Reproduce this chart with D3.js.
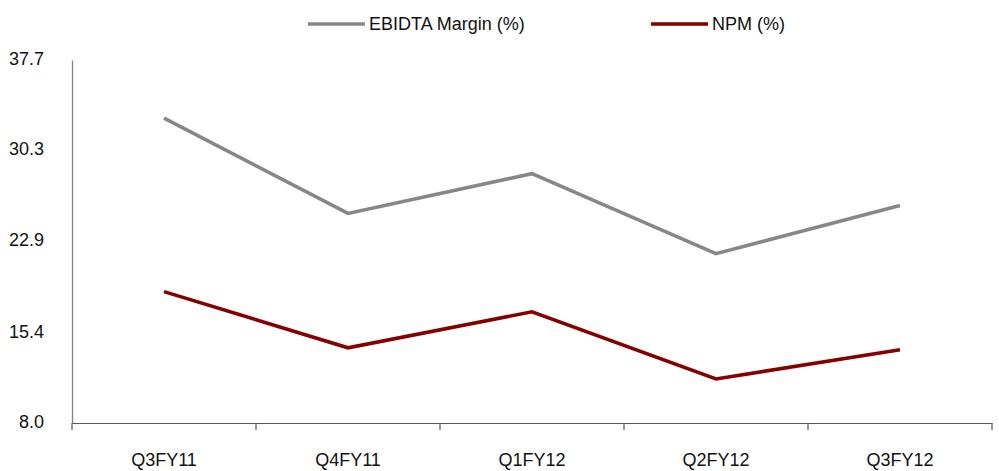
<!DOCTYPE html>
<html><head><meta charset="utf-8">
<script src="https://cdn.jsdelivr.net/npm/d3@7/dist/d3.min.js"></script>
<style>
html,body{margin:0;padding:0;background:#fff;}
text{font-family:"Liberation Sans Narrow","Arial Narrow","Liberation Sans",Arial,sans-serif;}
</style></head>
<body>
<svg id="chart" width="999" height="471"></svg>
<script>
const categories = ["Q3FY11","Q4FY11","Q1FY12","Q2FY12","Q3FY12"];
const ebitdaMargin = [32.95, 25.15, 28.4, 21.85, 25.8];
const npm = [18.75, 14.15, 17.1, 11.6, 14.0];
const yTicks = [8.0, 15.4, 22.9, 30.3, 37.7];
const seriesNames = ["EBIDTA Margin (%)", "NPM (%)"];
const seriesColors = ["#878787", "#870000"];

(function () {
const svg = d3.select("#chart");
const mLeft = 72, mRight = 992, mTop = 60, mBottom = 423;

const x = d3.scaleBand().domain(categories).range([mLeft, mRight]);
const y = d3.scaleLinear().domain([8.0, 37.7]).range([mBottom, mTop]);

// Y axis
const yAxis = svg.append("g").attr("transform", `translate(${mLeft},0)`)
  .call(d3.axisLeft(y).tickValues(yTicks).tickSize(0).tickPadding(28).tickFormat(d3.format(".1f")));
yAxis.select(".domain").attr("stroke", "#808080").attr("stroke-width", 1.3);
yAxis.selectAll("text").attr("font-size", 18).attr("fill", "#111").attr("dy", "0.25em");

// X axis
const xAxis = svg.append("g").attr("transform", `translate(0,${mBottom})`)
  .call(d3.axisBottom(x).tickSize(0).tickPadding(30));
xAxis.select(".domain").attr("stroke", "#555").attr("stroke-width", 1.2);
xAxis.selectAll("text").attr("font-size", 18).attr("fill", "#111");
const bounds = categories.map(c => x(c)).concat([x(categories[categories.length-1]) + x.bandwidth()]);
svg.append("g").selectAll("line").data(bounds).join("line")
  .attr("x1", d => d).attr("x2", d => d)
  .attr("y1", mBottom).attr("y2", mBottom + 7)
  .attr("stroke", "#555").attr("stroke-width", 1.2);

const line = d3.line().x((d, i) => x(categories[i]) + x.bandwidth() / 2).y(d => y(d));
[ebitdaMargin, npm].forEach((s, k) => {
  svg.append("path").datum(s).attr("d", line)
    .attr("fill", "none").attr("stroke", seriesColors[k]).attr("stroke-width", 3.6)
    .attr("stroke-linejoin", "miter");
});

const legendPos = [308, 651];
seriesNames.forEach((n, k) => {
  const g = svg.append("g").attr("transform", `translate(${legendPos[k]},24)`);
  g.append("line").attr("x1", 0).attr("x2", 57).attr("y1", 0).attr("y2", 0)
    .attr("stroke", seriesColors[k]).attr("stroke-width", 3.6);
  g.append("text").attr("x", 61).attr("y", 0).attr("dy", "0.35em")
    .attr("font-size", 18).attr("fill", "#111").text(n);
});
})();
</script>
</body></html>
